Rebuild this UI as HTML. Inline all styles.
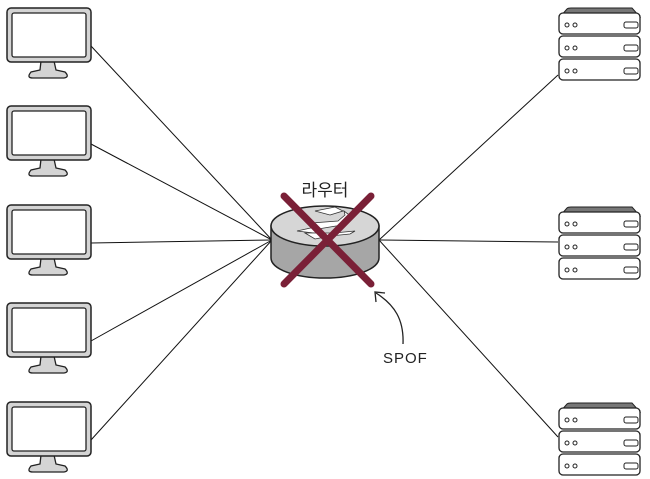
<!DOCTYPE html>
<html><head><meta charset="utf-8"><style>
html,body{margin:0;padding:0;background:#fff;}
svg{display:block;}
</style></head><body>
<svg id="d" width="650" height="479" viewBox="0 0 650 479">
<g id="lines" stroke="#111" stroke-width="1" fill="none"></g>
<g id="mons"></g>
<g id="servers"></g>
<g>
  <path d="M271,226 L271,258 A54,20 0 0 0 379,258 L379,226 Z" fill="#a6a6a6" stroke="#222" stroke-width="1.5"/>
  <ellipse cx="325" cy="226" rx="54" ry="20" fill="#d6d6d6" stroke="#222" stroke-width="1.5"/>
  <path d="M297,231 L315,227 L312,223 L338,221 L345,215 L344,211 L352,217 L342,225 L318,229 L322,234 Z" fill="#fff" stroke="#333" stroke-width="0.8"/>
  <path d="M305,233 L315,239 L330,236 L350,234 L355,231 L334,233 Z" fill="#fff" stroke="#333" stroke-width="0.8"/>
  <path d="M330,215 L343,211 L335,207 L315,211 Z" fill="#fff" stroke="#333" stroke-width="0.8"/>
</g>
<text x="325" y="196" text-anchor="middle" font-family="'Liberation Sans','Noto Sans CJK KR',sans-serif" font-size="17" fill="#222">라우터</text>
<g stroke="#7a2037" stroke-width="7" stroke-linecap="round">
  <line x1="284" y1="196" x2="371" y2="284"/>
  <line x1="371" y1="196" x2="284" y2="284"/>
</g>
<path d="M403,344 C404,320 395,305 376,293" fill="none" stroke="#222" stroke-width="1.3"/>
<path d="M376,302 L375,292 L385,293" fill="none" stroke="#222" stroke-width="1.3"/>
<text x="383" y="363" font-family="'Liberation Sans',sans-serif" font-size="15" letter-spacing="1" fill="#222">SPOF</text>
</svg>
<script>
var NS="http://www.w3.org/2000/svg";
var monitorTops=[8,106,205,303,402];
var serverTops=[8,207,403];
var router=[272,240];
var routerR=[379,240];
function mk(tag,attrs,parent){var e=document.createElementNS(NS,tag);for(var k in attrs)e.setAttribute(k,attrs[k]);parent.appendChild(e);return e;}
var L=document.getElementById('lines'),M=document.getElementById('mons'),S=document.getElementById('servers');
monitorTops.forEach(function(t,i){
  var ln=mk('line',{x1:91,y1:t+38,x2:router[0],y2:router[1]},L);
  
  
  var g=mk('g',{},M);
  
  
  mk('path',{d:'M41,'+(t+53)+' L40,'+(t+62)+' L31,'+(t+64)+' Q26,'+(t+70)+' 33,'+(t+70)+' L64,'+(t+70)+' Q70,'+(t+69)+' 65,'+(t+64)+' L56,'+(t+62)+' L54,'+(t+53)+' Z',fill:'#d4d4d4',stroke:'#222','stroke-width':1.3},g);
  mk('rect',{x:7,y:t,width:84,height:54,rx:4,fill:'#d4d4d4',stroke:'#222','stroke-width':1.5},g);
  mk('rect',{x:12,y:t+5,width:74,height:44,rx:2,fill:'#fff',stroke:'#222','stroke-width':1.3},g);
});
var sLinks=[75,242,437];
serverTops.forEach(function(t,i){
  var ln=mk('line',{x1:routerR[0],y1:routerR[1],x2:558,y2:sLinks[i]},L);
  
  
  var g=mk('g',{},S);
  
  
  mk('path',{d:'M560,'+(t+9)+' L567,'+(t+1)+' Q568,'+t+' 571,'+t+' L632,'+t+' L640,'+(t+9)+' Z',fill:'#777',stroke:'#222','stroke-width':1},g);
  for(var u=0;u<3;u++){
    var y=t+5+u*23;
    mk('rect',{x:559,y:y,width:81,height:21,rx:4,fill:'#fff',stroke:'#222','stroke-width':1.3},g);
    mk('circle',{cx:567,cy:y+12,r:2,fill:'none',stroke:'#222'},g);
    mk('circle',{cx:575,cy:y+12,r:2,fill:'none',stroke:'#222'},g);
    mk('rect',{x:624,y:y+9,width:14,height:6,rx:2,fill:'none',stroke:'#222'},g);
  }
});
</script>
</body></html>
